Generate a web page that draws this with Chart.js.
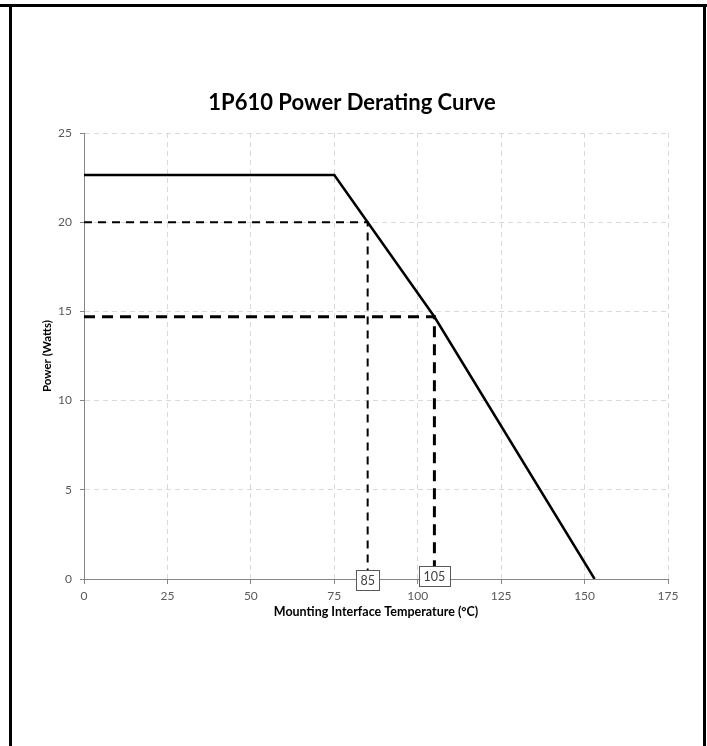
<!DOCTYPE html>
<html>
<head>
<meta charset="utf-8">
<script src="https://cdn.jsdelivr.net/npm/chart.js@4"></script>
<style>
  html, body { margin: 0; padding: 0; background: #fff; }
  #wrap { position: relative; width: 707px; height: 746px; }
  .edge { position: absolute; background: #000; }
</style>
</head>
<body>
<div id="wrap">
  <canvas id="derating"></canvas>
  <div class="edge" style="left:0;top:4px;width:707px;height:3px"></div>
  <div class="edge" style="left:9px;top:4px;width:3px;height:742px"></div>
  <div class="edge" style="left:703px;top:4px;width:3px;height:742px"></div>
</div>
<script>
// Curva de derating 1P610
const curveTemp = [0, 75, 85, 105, 153];
const curvePower = [22.65, 22.65, 20, 14.7, 0];

const markerTemps = [85, 105];
const markerPowers = [20, 14.7];
const markerLabels = ['85', '105'];

const xTicks = [0, 25, 50, 75, 100, 125, 150, 175];
const yTicks = [0, 5, 10, 15, 20, 25];

const FONT = 'Lato, "Open Sans", sans-serif';

const curveData = curveTemp.map((t, i) => ({ x: t, y: curvePower[i] }));
const markerData = markerTemps.map((t, i) => [
  { x: 0, y: markerPowers[i] },
  { x: t, y: markerPowers[i] },
  { x: t, y: 0 }
]);

// caixinhas com o valor da temperatura em cima do eixo x
const markerBoxes = {
  id: 'markerBoxes',
  afterDatasetsDraw(chart) {
    const ctx = chart.ctx;
    const xs = chart.scales.x, ys = chart.scales.y;
    const shift = [1, -3];
    ctx.save();
    ctx.font = '12.5px ' + FONT;
    ctx.textAlign = 'center';
    ctx.textBaseline = 'middle';
    markerTemps.forEach((t, i) => {
      const cx = xs.getPixelForValue(t);
      const cy = ys.getPixelForValue(0) + shift[i];
      const w = ctx.measureText(markerLabels[i]).width + 9;
      const h = 20;
      ctx.fillStyle = '#fff';
      ctx.fillRect(cx - w / 2, cy - h / 2, w, h);
      ctx.strokeStyle = '#595959';
      ctx.lineWidth = 1;
      ctx.strokeRect(Math.round(cx - w / 2) + 0.5, Math.round(cy - h / 2) + 0.5, Math.round(w), h);
      ctx.fillStyle = '#404040';
      ctx.fillText(markerLabels[i], cx, cy + 1);
    });
    ctx.restore();
  }
};

const ctx = document.getElementById('derating').getContext('2d');

const chartDerating = new Chart(ctx, {
  type: 'scatter',
  data: {
    datasets: [
      {
        label: 'Derating',
        data: curveData,
        showLine: true,
        borderColor: '#000',
        borderWidth: 2.5,
        pointRadius: 0,
        tension: 0
      },
      {
        label: '85',
        data: markerData[0],
        showLine: true,
        borderColor: '#000',
        borderWidth: 2,
        borderDash: [8, 6],
        pointRadius: 0
      },
      {
        label: '105',
        data: markerData[1],
        showLine: true,
        borderColor: '#000',
        borderWidth: 3,
        borderDash: [11, 7],
        pointRadius: 0
      }
    ]
  },
  options: {
    responsive: true,
    maintainAspectRatio: false,
    animation: false,
    layout: { padding: { left: 36, right: 39, top: 0, bottom: 123 } },
    plugins: {
      legend: { display: false },
      tooltip: { enabled: false },
      title: {
        display: true,
        text: '1P610 Power Derating Curve',
        color: '#000',
        font: { family: FONT, size: 22, weight: 'bold', lineHeight: 1.2 },
        padding: { top: 90, bottom: 16.6 }
      }
    },
    scales: {
      x: {
        type: 'linear',
        min: 0,
        max: 175,
        afterBuildTicks: s => { s.ticks = xTicks.map(v => ({ value: v })); },
        afterFit: s => { s.height = 44; },
        border: { color: '#868686', width: 1, dash: [5, 4] },
        grid: {
          color: '#d9d9d9',
          tickColor: '#868686',
          tickBorderDash: [],
          tickLength: 5
        },
        ticks: { color: '#595959', font: { family: FONT, size: 12 }, padding: 5, maxRotation: 0 },
        title: {
          display: true,
          text: 'Mounting Interface Temperature (°C)',
          color: '#000',
          font: { family: FONT, size: 12.5, weight: 'bold' },
          padding: { top: 4, bottom: 4 }
        }
      },
      y: {
        type: 'linear',
        min: 0,
        max: 25,
        afterBuildTicks: s => { s.ticks = yTicks.map(v => ({ value: v })); },
        afterFit: s => { s.width = 48; },
        border: { color: '#868686', width: 1, dash: [5, 4] },
        grid: {
          color: '#d9d9d9',
          tickColor: '#868686',
          tickBorderDash: [],
          tickLength: 4
        },
        ticks: { color: '#595959', font: { family: FONT, size: 12 }, padding: 8 },
        title: {
          display: true,
          text: 'Power (Watts)',
          color: '#000',
          font: { family: FONT, size: 11.5, weight: 'bold' },
          padding: { top: 4, bottom: 4 }
        }
      }
    }
  },
  plugins: [markerBoxes]
});
</script>
</body>
</html>
